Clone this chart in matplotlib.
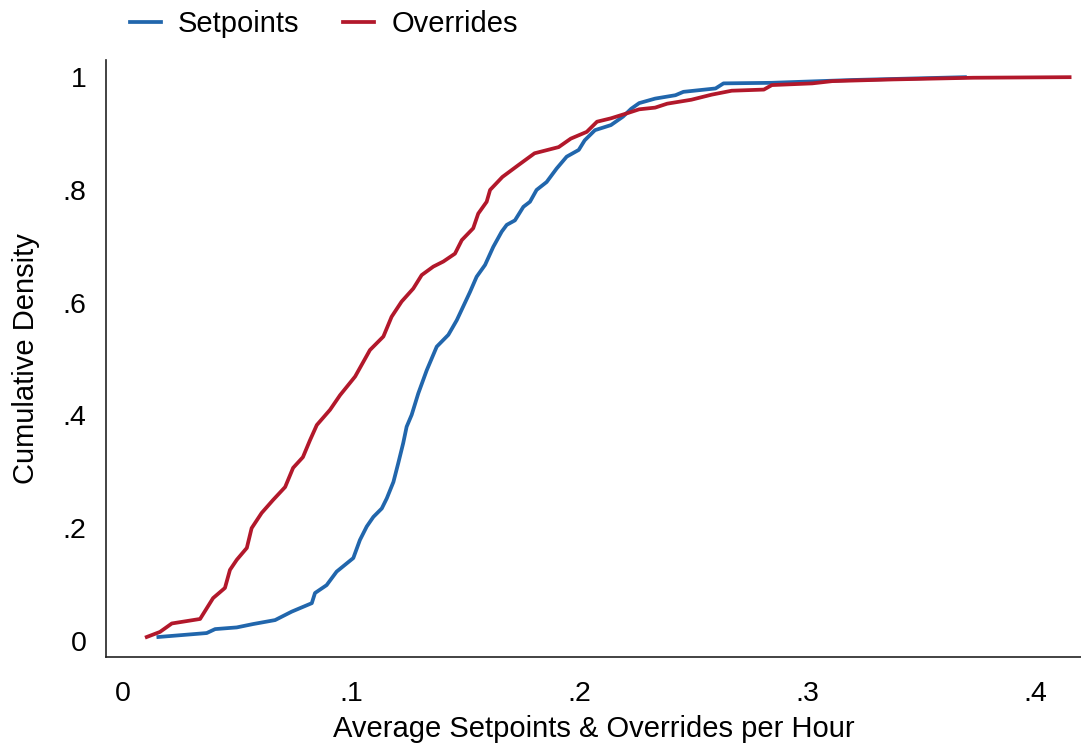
import numpy as np
import matplotlib
matplotlib.use('Agg')
import matplotlib.pyplot as plt

plt.rcParams['font.family'] = ['Liberation Sans', 'DejaVu Sans']

# CDF (x = avg per hour, y = cumulative density)
setpoints_x = [0.0155, 0.0367, 0.0404, 0.0499, 0.0571, 0.0667, 0.0740, 0.0828, 0.0842, 0.0893,
               0.0937, 0.1010, 0.1039, 0.1069, 0.1098, 0.1135, 0.1157, 0.1186, 0.1207, 0.1229,
               0.1244, 0.1266, 0.1295, 0.1332, 0.1376, 0.1427, 0.1464, 0.1522, 0.1551, 0.1588,
               0.1624, 0.1661, 0.1683, 0.1719, 0.1756, 0.1785, 0.1814, 0.1858, 0.1902, 0.1946,
               0.1999, 0.2025, 0.2070, 0.2140, 0.2193, 0.2229, 0.2264, 0.2334, 0.2423, 0.2458,
               0.2599, 0.2634, 0.2846, 0.3199, 0.3693]
setpoints_y = [0.007, 0.014, 0.021, 0.024, 0.030, 0.037, 0.052, 0.067, 0.085, 0.099,
               0.123, 0.147, 0.179, 0.203, 0.220, 0.235, 0.253, 0.282, 0.315, 0.351,
               0.380, 0.401, 0.439, 0.480, 0.522, 0.543, 0.569, 0.619, 0.646, 0.667,
               0.699, 0.726, 0.738, 0.746, 0.770, 0.779, 0.800, 0.814, 0.838, 0.859,
               0.871, 0.888, 0.906, 0.915, 0.930, 0.944, 0.954, 0.962, 0.968, 0.974,
               0.980, 0.989, 0.990, 0.995, 1.000]

overrides_x = [0.0104, 0.0162, 0.0214, 0.0338, 0.0395, 0.0447, 0.0469, 0.0499, 0.0543, 0.0564,
               0.0608, 0.0658, 0.0711, 0.0746, 0.0789, 0.0820, 0.0850, 0.0908, 0.0952, 0.1018,
               0.1083, 0.1142, 0.1178, 0.1222, 0.1273, 0.1310, 0.1361, 0.1405, 0.1456, 0.1486,
               0.1536, 0.1558, 0.1595, 0.1610, 0.1664, 0.1734, 0.1805, 0.1911, 0.1964, 0.2034,
               0.2079, 0.2140, 0.2211, 0.2264, 0.2334, 0.2387, 0.2493, 0.2582, 0.2670, 0.2811,
               0.2846, 0.3023, 0.3111, 0.3376, 0.3729, 0.4152]
overrides_y = [0.007, 0.016, 0.031, 0.039, 0.076, 0.094, 0.126, 0.144, 0.165, 0.200,
               0.227, 0.250, 0.273, 0.307, 0.326, 0.356, 0.383, 0.410, 0.436, 0.469,
               0.516, 0.540, 0.575, 0.602, 0.625, 0.649, 0.664, 0.673, 0.687, 0.711,
               0.732, 0.758, 0.779, 0.800, 0.823, 0.844, 0.865, 0.876, 0.891, 0.903,
               0.921, 0.927, 0.936, 0.943, 0.946, 0.953, 0.960, 0.969, 0.976, 0.978,
               0.986, 0.989, 0.993, 0.996, 0.999, 1.000]

x_ticks = [0, 0.1, 0.2, 0.3, 0.4]
x_labels = ['0', '.1', '.2', '.3', '.4']
y_ticks = [0, 0.2, 0.4, 0.6, 0.8, 1.0]
y_labels = ['0', '.2', '.4', '.6', '.8', '1']

fig = plt.figure(figsize=(10.81, 7.44), dpi=100)
ax = fig.add_axes([0.098, 0.117, 0.902, 0.802])

ax.plot(setpoints_x, setpoints_y, color='#2166ac', lw=2.7, label='Setpoints')
ax.plot(overrides_x, overrides_y, color='#b2182b', lw=2.7, label='Overrides')

ax.set_xlim(-0.0075, 0.4202)
ax.set_ylim(-0.0284, 1.030)
ax.set_xticks(x_ticks)
ax.set_xticklabels(x_labels)
ax.set_yticks(y_ticks)
ax.set_yticklabels(y_labels)
ax.tick_params(length=0, labelsize=20.5, colors='black')
ax.tick_params(axis='x', pad=17)
ax.tick_params(axis='y', pad=14)

for s in ['top', 'right']:
    ax.spines[s].set_visible(False)
for s in ['left', 'bottom']:
    ax.spines[s].set_color('#222222')
    ax.spines[s].set_linewidth(1.2)

ax.set_xlabel('Average Setpoints & Overrides per Hour', fontsize=21, labelpad=6)
ax.set_ylabel('Cumulative Density', fontsize=21, labelpad=16)

fig.legend(loc='upper left', bbox_to_anchor=(0.096, 1.022), ncol=2, frameon=False,
           fontsize=21, handlelength=1.05, handletextpad=0.6, columnspacing=1.5)

fig.savefig('out.png', dpi=100)
